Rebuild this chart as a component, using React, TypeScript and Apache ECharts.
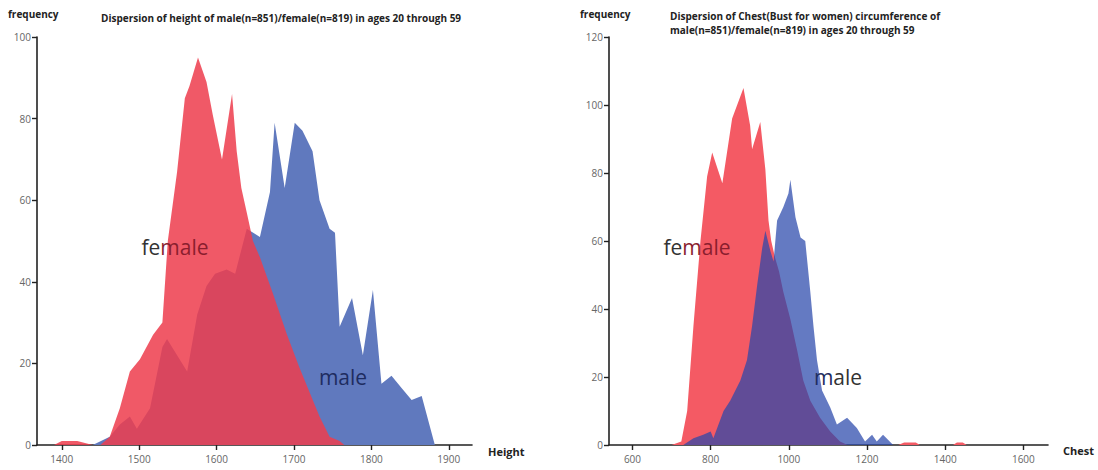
import React, { useEffect, useRef } from "react";
import * as echarts from "echarts";

// Left chart: height (mm) vs frequency
const heightFemale: [number, number][] = [
  [1390, 0], [1400, 1], [1420, 1], [1440, 0], [1450, 0], [1462, 2], [1475, 9], [1488, 18],
  [1501, 21], [1518, 27], [1530, 30], [1537, 50], [1549, 67], [1559, 85], [1565, 88],
  [1576, 95], [1587, 89], [1595, 81], [1607, 70], [1620, 86], [1626, 72], [1632, 63],
  [1639, 57], [1647, 50], [1656, 46], [1673, 37], [1691, 27], [1707, 19], [1720, 13],
  [1733, 7], [1746, 2], [1759, 1], [1765, 0],
];
const heightMale: [number, number][] = [
  [1440, 0], [1462, 2], [1475, 5], [1488, 7], [1497, 4], [1514, 9], [1530, 24], [1536, 26],
  [1549, 22], [1562, 18], [1575, 32], [1587, 39], [1598, 42], [1613, 43], [1624, 42],
  [1639, 53], [1656, 51], [1669, 62], [1675, 79], [1688, 63], [1701, 79], [1711, 77],
  [1724, 72], [1733, 60], [1746, 53], [1753, 52], [1759, 29], [1775, 36], [1789, 22],
  [1802, 38], [1813, 15], [1826, 17], [1839, 14], [1852, 11], [1865, 12], [1882, 0],
];

// Right chart: chest (bust) circumference (mm) vs frequency
const chestFemale: [number, number][] = [
  [700, 0], [725, 1], [740, 10], [756, 35], [774, 60], [791, 79], [804, 86], [830, 77],
  [855, 96], [884, 105], [901, 94], [906, 87], [927, 95], [940, 81], [948, 66], [955, 60],
  [965, 55], [975, 51], [986, 45], [1004, 37], [1021, 28], [1037, 19], [1055, 13],
  [1080, 8], [1106, 4], [1131, 1], [1150, 0], [1280, 0], [1295, 0.7], [1325, 0.7], [1335, 0],
  [1420, 0], [1430, 0.7], [1445, 0.7], [1455, 0],
];
const chestMale: [number, number][] = [
  [730, 0], [756, 2], [781, 3], [800, 4], [807, 2], [833, 10], [850, 13], [876, 19],
  [893, 25], [906, 35], [919, 47], [932, 58], [940, 63], [953, 57], [961, 54], [970, 66],
  [986, 70], [999, 74], [1004, 78], [1017, 67], [1030, 61], [1042, 60], [1055, 45],
  [1063, 35], [1072, 25], [1085, 16], [1106, 11], [1123, 6], [1149, 8], [1174, 5],
  [1195, 1], [1213, 3], [1225, 1], [1241, 3], [1267, 0],
];

const heightTicks = [1400, 1500, 1600, 1700, 1800, 1900];
const chestTicks = [600, 800, 1000, 1200, 1400, 1600];

const titleLeft = "Dispersion of height of male(n=851)/female(n=819) in ages 20 through 59";
const titleRight1 = "Dispersion of Chest(Bust for women) circumference of";
const titleRight2 = "male(n=851)/female(n=819) in ages 20 through 59";

const FONT = "'Open Sans', 'Noto Sans', sans-serif";

export default function App() {
  const ref = useRef<HTMLDivElement>(null);
  useEffect(() => {
    if (!ref.current) return;
    const chart = echarts.init(ref.current, null, { renderer: "svg" });
    const axisLine = { show: true, lineStyle: { color: "#222", width: 1.6 } };
    const tickStyle = { show: true, length: 5, lineStyle: { color: "#222", width: 1.4 } };
    const labelStyle = {
      color: "#666",
      fontSize: 10,
      fontFamily: FONT,
      formatter: (v: number) => String(v),
    };
    const xAxisBase = (idx: number, min: number, max: number, ticks: number[]) => ({
      type: "value",
      gridIndex: idx,
      min,
      max,
      axisLine,
      axisTick: { ...tickStyle, customValues: ticks },
      axisLabel: { ...labelStyle, margin: 9, customValues: ticks },
      splitLine: { show: false },
    });
    const yAxisBase = (idx: number, max: number) => ({
      type: "value",
      gridIndex: idx,
      min: 0,
      max,
      interval: 20,
      axisLine,
      axisTick: tickStyle,
      axisLabel: { ...labelStyle, margin: 6 },
      splitLine: { show: false },
    });
    const area = (
      name: string,
      data: [number, number][],
      idx: number,
      color: string,
      z: number
    ) => ({
      name,
      type: "line",
      xAxisIndex: idx,
      yAxisIndex: idx,
      data,
      symbol: "none",
      lineStyle: { width: 0 },
      areaStyle: { color, opacity: 1 },
      itemStyle: { color },
      z,
    });
    const boldText = (x: number, y: number, text: string, size = 10) => ({
      type: "text",
      x,
      y,
      z: 10,
      style: {
        text,
        fill: "#222",
        font: `bold ${size}px ${FONT}`,
        textVerticalAlign: "middle",
      },
    });
    const bigLabel = (x: number, y: number, rich: string, styles: any) => ({
      type: "text",
      x,
      y,
      z: 10,
      style: {
        text: rich,
        rich: styles,
        textAlign: "center",
        textVerticalAlign: "middle",
      },
    });
    const seg = (fill: string) => ({ fill, fontSize: 21, fontFamily: FONT });

    chart.setOption({
      animation: false,
      grid: [
        { left: 37, top: 37, width: 435, bottom: 25 },
        { left: 609, top: 37, width: 439, bottom: 25 },
      ],
      xAxis: [
        xAxisBase(0, 1368, 1930, heightTicks),
        xAxisBase(1, 540, 1663, chestTicks),
      ],
      yAxis: [yAxisBase(0, 100), yAxisBase(1, 120)],
      series: [
        area("male", heightMale, 0, "#6079BE", 2),
        area("female", heightFemale, 0, "rgba(238,62,78,0.86)", 3),
        area("female", chestFemale, 1, "#F45A64", 2),
        area("male", chestMale, 1, "rgba(40,70,170,0.72)", 3),
      ],
      graphic: [
        boldText(8, 14, "frequency"),
        boldText(580, 14, "frequency"),
        boldText(101, 18, titleLeft),
        boldText(670, 16, titleRight1),
        boldText(670, 30, titleRight2),
        boldText(488, 451, "Height", 11),
        boldText(1063, 450, "Chest", 11),
        bigLabel(175, 247, "{a|fe}{b|male}", { a: seg("#333"), b: seg("#8A1E2E") }),
        bigLabel(343, 377, "{c|male}", { c: seg("#1E2C60") }),
        bigLabel(697, 247, "{a|fe}{b|male}", { a: seg("#333"), b: seg("#8A1E2E") }),
        bigLabel(838, 377, "{c|m}{a|ale}", { a: seg("#333"), c: seg("#1E2C60") }),
      ],
    });
    return () => chart.dispose();
  }, []);
  return (
    <div
      ref={ref}
      style={{ position: "fixed", left: 0, top: 0, width: 1098, height: 470, background: "#fff" }}
    />
  );
}
